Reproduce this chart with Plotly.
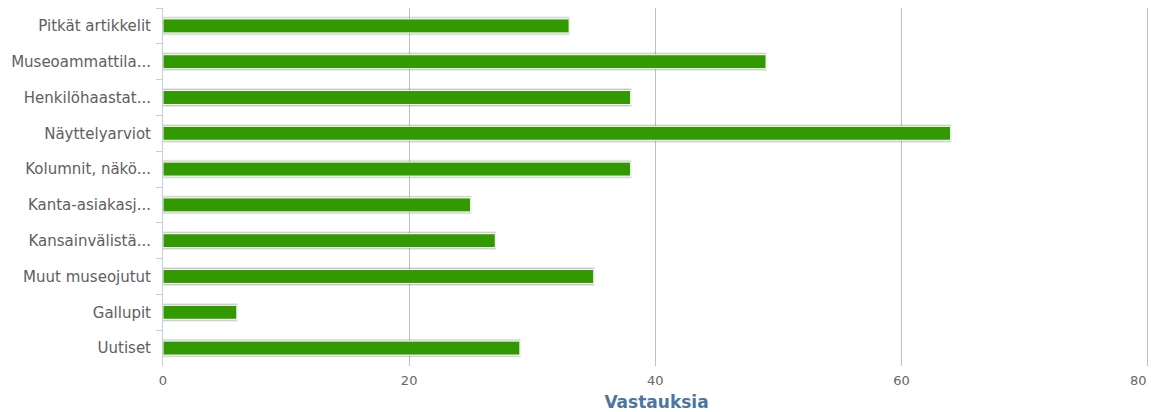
import plotly.graph_objects as go

categories = [
    "Pitkät artikkelit",
    "Museoammattila...",
    "Henkilöhaastat...",
    "Näyttelyarviot",
    "Kolumnit, näkö...",
    "Kanta-asiakasj...",
    "Kansainvälistä...",
    "Muut museojutut",
    "Gallupit",
    "Uutiset",
]
answers = [33, 49, 38, 64, 38, 25, 27, 35, 6, 29]
x_ticks = [0, 20, 40, 60, 80]
x_labels = ["0", "20", "40", "60", ""]  # last label is placed right-aligned below

FONT = "DejaVu Sans, Verdana, sans-serif"

fig = go.Figure()
# soft shadow behind each bar, like the original
fig.add_trace(go.Bar(
    y=categories, x=answers, orientation="h", width=0.47,
    marker=dict(color="rgba(0,0,0,0.16)", line=dict(color="rgba(0,0,0,0.08)", width=2)),
    hoverinfo="skip", showlegend=False,
))
fig.add_trace(go.Bar(
    y=categories, x=answers, orientation="h", width=0.39,
    marker=dict(color="#339900", line=dict(color="#ffffff", width=1)),
    name="Vastauksia", showlegend=False,
))

# edge label sits inside the chart, like Highcharts does it
fig.add_annotation(
    x=x_ticks[-1], xref="x", y=0, yref="paper",
    text=str(x_ticks[-1]), showarrow=False,
    xanchor="right", yanchor="top", yshift=-5, xshift=1,
    font=dict(size=13, color="#666666", family=FONT),
)

fig.update_layout(
    width=1151, height=412,
    margin=dict(l=163, r=1, t=8, b=46),
    paper_bgcolor="white", plot_bgcolor="white",
    barmode="overlay",
    font=dict(family=FONT, size=12, color="#666666"),
    xaxis=dict(
        range=[0, 80.2], tickvals=x_ticks, ticktext=x_labels, automargin=False,
        showgrid=True, gridcolor="#c0c0c0", gridwidth=1,
        zeroline=False, showline=False,
        ticks="", ticklabelstandoff=5,
        tickfont=dict(size=13, color="#666666"),
        title=dict(text="<b>Vastauksia</b>", standoff=12,
                   font=dict(size=17, color="#4d759e", family=FONT)),
    ),
    yaxis=dict(
        autorange="reversed", type="category", automargin=False,
        showline=True, linecolor="#c0d0e0", linewidth=1,
        ticks="outside", tickson="boundaries", ticklen=6,
        tickcolor="#c0d0e0", showgrid=False,
        ticklabelstandoff=8,
        tickfont=dict(size=15, color="#606060"),
    ),
)

# drop the default page margin so the chart fills the window without scrollbars
fig.write_html(
    "out.html",
    config={"displayModeBar": False},
    post_script="document.body.style.margin='0';document.body.style.overflow='hidden';",
)
